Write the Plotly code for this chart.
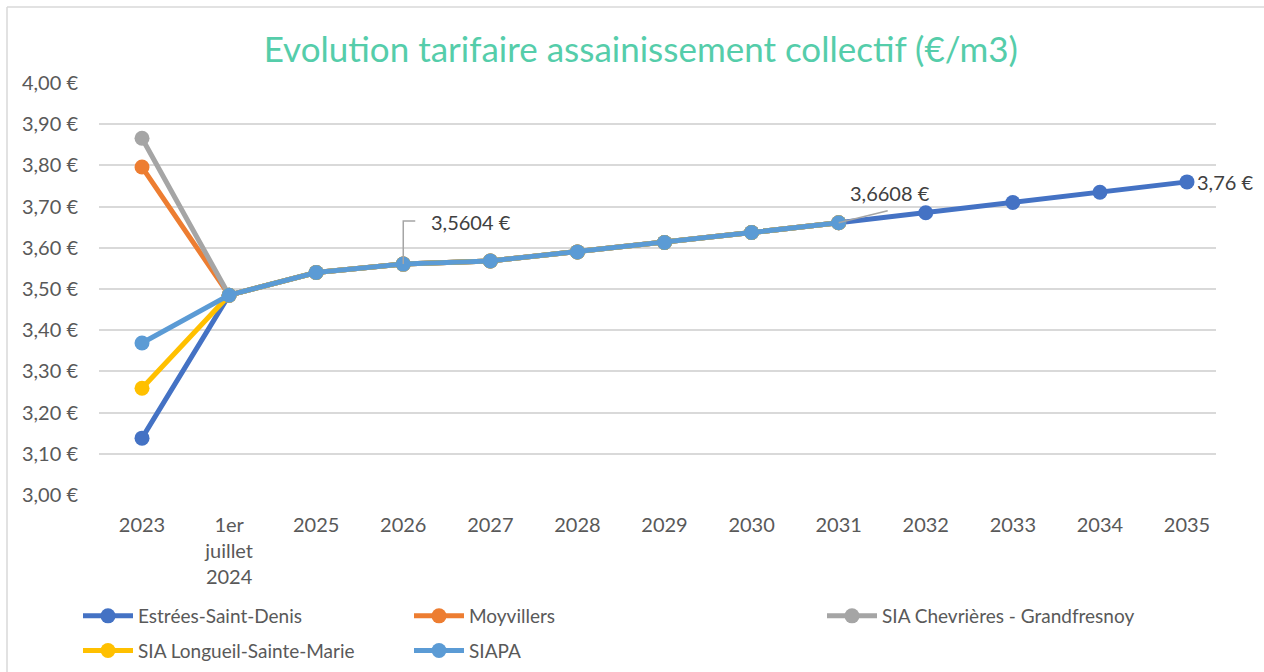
import plotly.graph_objects as go

categories = ["2023", "1er<br>juillet<br>2024", "2025", "2026", "2027", "2028", "2029",
              "2030", "2031", "2032", "2033", "2034", "2035"]

estrees = [3.138, 3.485, 3.540, 3.5604, 3.568, 3.590, 3.613, 3.637, 3.6608, 3.685, 3.710, 3.735, 3.76]
moyvillers = [3.796, 3.485, 3.540, 3.5604, 3.568, 3.590, 3.613, 3.637, 3.6608, None, None, None, None]
chevrieres = [3.866, 3.485, 3.540, 3.5604, 3.568, 3.590, 3.613, 3.637, 3.6608, None, None, None, None]
longueil = [3.259, 3.485, 3.540, 3.5604, 3.568, 3.590, 3.613, 3.637, 3.6608, None, None, None, None]
siapa = [3.369, 3.485, 3.540, 3.5604, 3.568, 3.590, 3.613, 3.637, 3.6608, None, None, None, None]

series = [
    ("Estrées-Saint-Denis", estrees, "#4472C4", "legend"),
    ("Moyvillers", moyvillers, "#ED7D31", "legend2"),
    ("SIA Chevrières - Grandfresnoy", chevrieres, "#A5A5A5", "legend3"),
    ("SIA Longueil-Sainte-Marie", longueil, "#FFC000", "legend"),
    ("SIAPA", siapa, "#5B9BD5", "legend2"),
]

y_ticks = [3.0 + i * 0.1 for i in range(11)]
y_ticktext = [f"{v:.2f} €".replace(".", ",") for v in y_ticks]

FONT = "Lato, 'Open Sans', sans-serif"
TXT = "#595959"

fig = go.Figure()
for i, (name, vals, color, lg) in enumerate(series):
    fig.add_trace(go.Scatter(
        x=categories, y=vals, name=name, mode="lines+markers",
        line=dict(color=color, width=5),
        marker=dict(color=color, size=15),
        legend=lg, legendgroup=name,
        connectgaps=False,
    ))

W, H = 1264, 672
ML, MR, MT, MB = 99, 48, 83, 177
pw, ph = W - ML - MR, H - MT - MB

def px_x(p):
    return (p - ML) / pw

def px_y(p):
    return (H - MB - p) / ph

legend_common = dict(
    orientation="v", yanchor="top", xanchor="left",
    xref="container", yref="container",
    font=dict(family=FONT, size=19, color=TXT),
    bgcolor="rgba(0,0,0,0)", itemwidth=50,
    traceorder="grouped", tracegroupgap=7,
)

fig.update_layout(
    width=W, height=H,
    margin=dict(l=ML, r=MR, t=MT, b=MB, autoexpand=False),
    paper_bgcolor="white", plot_bgcolor="white",
    title=dict(text="Evolution tarifaire assainissement collectif (€/m3)",
               x=0.507, xanchor="center", y=1 - 50 / H, yanchor="middle",
               font=dict(family=FONT, size=35, color="#55CDAA")),
    font=dict(family=FONT, size=20, color=TXT),
    xaxis=dict(type="category", showgrid=False, zeroline=False, showline=False,
               tickfont=dict(family=FONT, size=20, color=TXT), automargin=False,
               ticklabelstandoff=16, range=[-0.494, 12.333]),
    yaxis=dict(range=[3.0, 4.0], tickvals=y_ticks, ticktext=y_ticktext,
               showgrid=True, gridcolor="#D9D9D9", gridwidth=1.5,
               zeroline=False, showline=False, automargin=False,
               tickfont=dict(family=FONT, size=20, color=TXT),
               ticklabelstandoff=20),
    legend=dict(x=78 / W, y=1 - 597 / H, **legend_common),
    legend2=dict(x=409 / W, y=1 - 597 / H, **legend_common),
    legend3=dict(x=822 / W, y=1 - 597 / H, **legend_common),
    showlegend=True,
)

# chart frame (top and left edges visible)
fig.add_shape(type="line", xref="paper", yref="paper",
              x0=px_x(7), x1=px_x(W + 20), y0=px_y(7), y1=px_y(7),
              line=dict(color="#D9D9D9", width=1.5), layer="below")
fig.add_shape(type="line", xref="paper", yref="paper",
              x0=px_x(7), x1=px_x(7), y0=px_y(H + 20), y1=px_y(7),
              line=dict(color="#D9D9D9", width=1.5), layer="below")

ann_font = dict(family=FONT, size=20, color="#404040")
# data labels
fig.add_annotation(x=3, y=estrees[3], text="3,5604 €", showarrow=False,
                   xanchor="left", yanchor="middle", xshift=26, yshift=42, font=ann_font)
fig.add_annotation(x=8, y=estrees[8], text="3,6608 €", showarrow=False,
                   xanchor="center", yanchor="middle", xshift=51, yshift=30, font=ann_font)
fig.add_annotation(x=12, y=estrees[12], text="3,76 €", showarrow=False,
                   xanchor="left", yanchor="middle", xshift=8, yshift=0, font=ann_font)

# leader lines
fig.add_shape(type="path", xref="x", yref="y", xsizemode="pixel", ysizemode="pixel",
              xanchor=3, yanchor=estrees[3],
              path="M0,0 L0,43 L12,43", line=dict(color="#A5A5A5", width=1.5))
fig.add_shape(type="path", xref="x", yref="y", xsizemode="pixel", ysizemode="pixel",
              xanchor=8, yanchor=estrees[8],
              path="M0,0 L49,12", line=dict(color="#A5A5A5", width=1.5))

fig.write_html("out.html", config={"displayModeBar": False},
               post_script="document.body.style.margin='0px';document.body.style.overflow='hidden';")
